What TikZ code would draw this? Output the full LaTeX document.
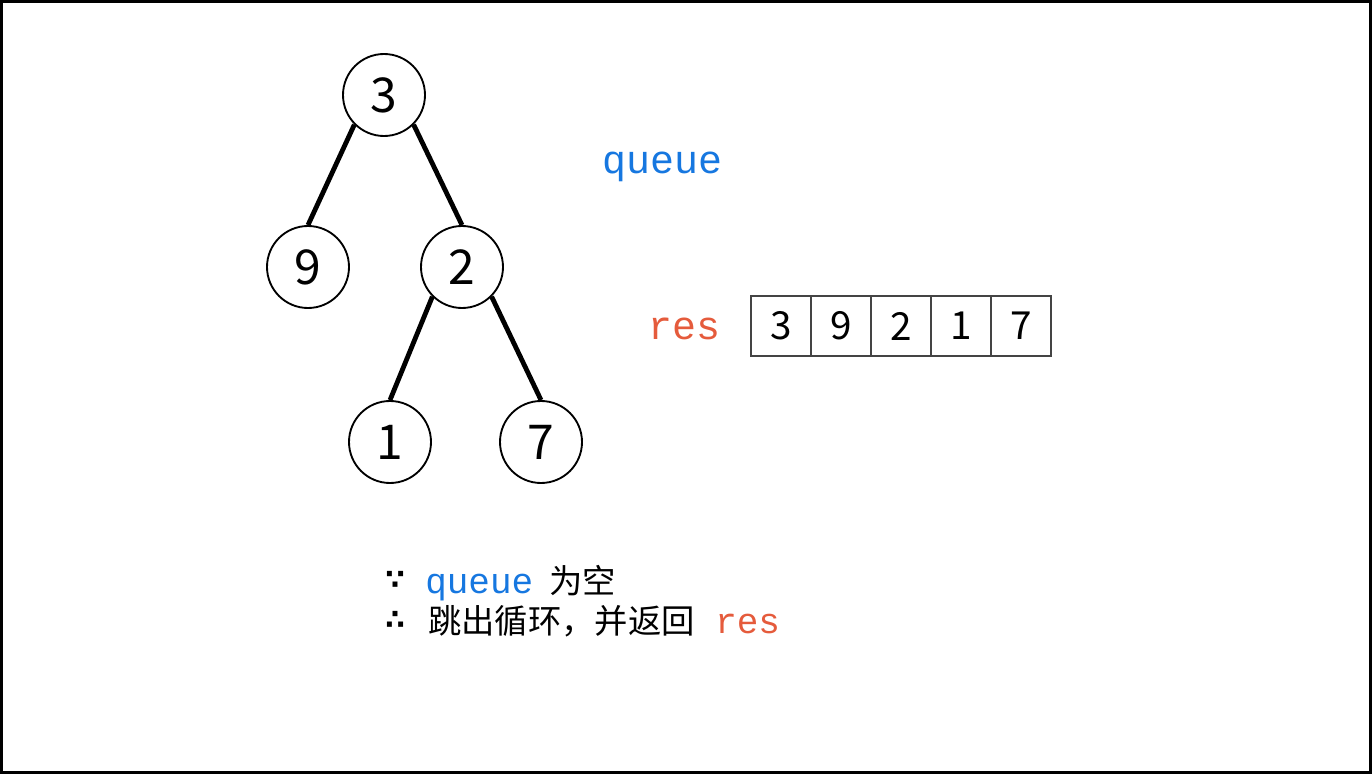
\documentclass[tikz,border=0pt]{standalone}
\usepackage{fontspec}
\setmainfont{Noto Sans CJK SC}
\setmonofont{Liberation Mono}
\newfontfamily\symfont{DejaVu Sans Bold}
\definecolor{qblue}{HTML}{1677E0}
\definecolor{rred}{HTML}{E55B3C}
\definecolor{cellgray}{HTML}{444444}
\begin{document}
\begin{tikzpicture}[x=0.75pt,y=-0.75pt,
  treenode/.style={circle,draw=black,line width=1.4pt,minimum size=61.5pt,inner sep=0pt,font=\fontsize{36}{40}\selectfont},
  treeedge/.style={line width=3.6pt},
  cell/.style={rectangle,draw=cellgray,line width=1.4pt,minimum size=45pt,inner sep=0pt,font=\fontsize{29}{32}\selectfont},
  monobig/.style={anchor=base west,inner sep=0pt,font=\ttfamily\fontsize{30}{34}\selectfont},
  monosmall/.style={anchor=base west,inner sep=0pt,font=\ttfamily\fontsize{27}{30}\selectfont},
  cjktext/.style={anchor=base west,inner sep=0pt,font=\fontsize{25}{30}\selectfont},
  logicsym/.style={anchor=base west,inner sep=0pt,font=\symfont\fontsize{21}{24}\selectfont}]
\useasboundingbox (0,0) rectangle (1372,774);
\draw[line width=2.25pt] (1.5,1.5) rectangle (1370.5,772.5);
% tree
\node[treenode] (n3) at (384,95) {3};
\node[treenode] (n9) at (308,267) {9};
\node[treenode] (n2) at (462,267) {2};
\node[treenode] (n1) at (390,442) {1};
\node[treenode] (n7) at (541,442) {7};
\draw[treeedge] (n3.south west) -- (n9.north);
\draw[treeedge] (n3.south east) -- (n2.north);
\draw[treeedge] (n2.south west) -- (n1.north);
\draw[treeedge] (n2.south east) -- (n7.north);
% labels
\node[monobig,text=qblue] (lq) at (602,173) {queue};
\node[monobig,text=rred] (lr) at (648,339) {res};
% array
\node[cell] (c1) at (781,326) {3};
\node[cell] (c2) at (841,326) {9};
\node[cell] (c3) at (901,326) {2};
\node[cell] (c4) at (961,326) {1};
\node[cell] (c5) at (1021,326) {7};
% bottom text
\node[logicsym] (b1) at (385,589) {∵};
\node[monosmall,text=qblue] (b2) at (425,593) {queue};
\node[cjktext] (b3) at (549,593) {为空};
\node[logicsym] (b4) at (385,629) {∴};
\node[cjktext] (b5) at (428,633) {跳出循环，并返回};
\node[monosmall,text=rred] (b6) at (715,633) {res};
\end{tikzpicture}
\end{document}
